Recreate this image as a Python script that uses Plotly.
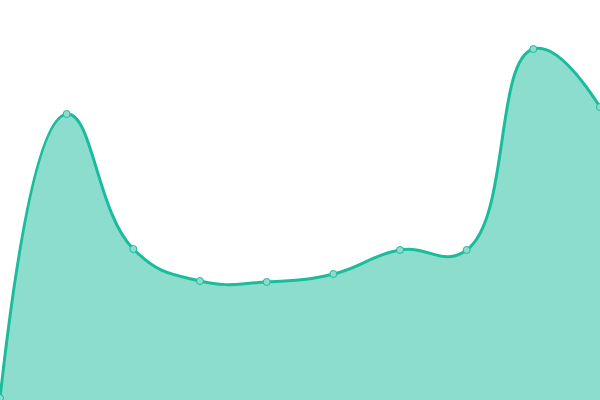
import plotly.graph_objects as go

# point index along the x axis
steps = [0, 1, 2, 3, 4, 5, 6, 7, 8, 9]
values = [2, 286, 151, 119, 118, 126, 150, 150, 351, 293]

fig = go.Figure()

fig.add_trace(go.Scatter(
    x=steps,
    y=values,
    mode='lines+markers',
    fill='tozeroy',
    fillcolor='rgba(26,188,156,0.5)',
    line=dict(color='#1ABC9C', width=3, shape='spline', smoothing=1.3),
    marker=dict(size=7, color='#8CDDCD', line=dict(color='#1ABC9C', width=1)),
))

fig.update_layout(
    width=600, height=400,
    margin=dict(l=0, r=0, t=0, b=0),
    paper_bgcolor='white', plot_bgcolor='white',
    showlegend=False,
    xaxis=dict(range=[0, 9], visible=False, fixedrange=True),
    yaxis=dict(range=[0, 400], visible=False, fixedrange=True),
)

# page body has an 8px margin by default, drop it so the chart fills the window
fig.write_html("out.html", config={'displayModeBar': False},
               post_script="document.body.style.margin='0';")
